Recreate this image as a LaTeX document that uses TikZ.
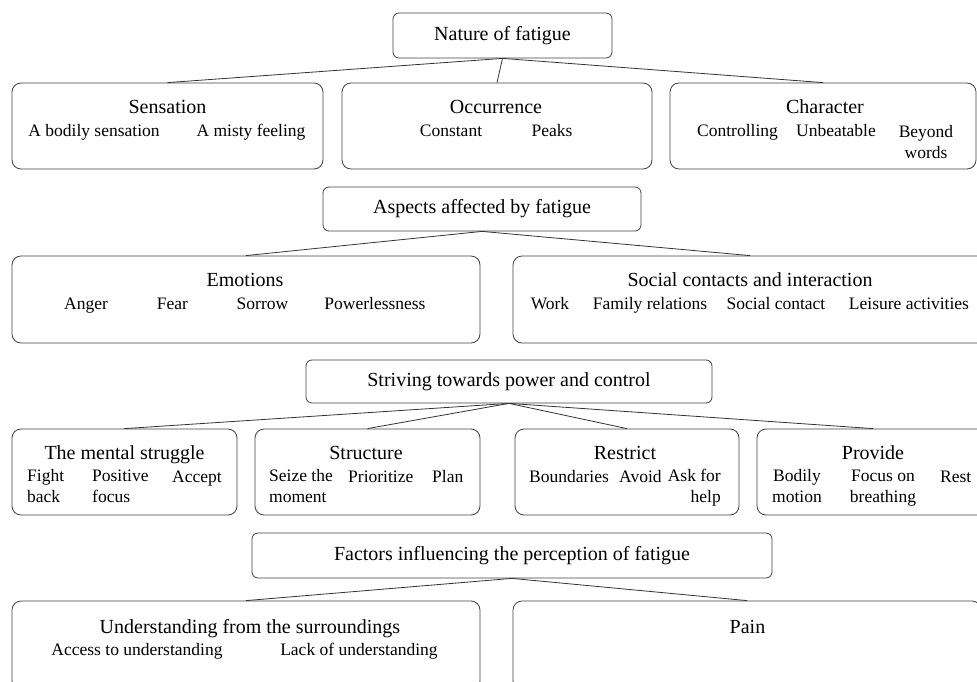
\documentclass[tikz,border=0pt]{standalone}
\usepackage{fontspec}
\setmainfont{Liberation Serif}
\usepackage{tikz}

\tikzset{
  head/.style={draw=black!75, line width=0.8pt, rounded corners=6pt, inner sep=0pt,
    font=\fontsize{20}{24}\selectfont},
  grp/.style={draw=black!75, line width=0.8pt, rounded corners=9pt, inner sep=0pt},
  ttl/.style={anchor=base, inner sep=0pt, font=\fontsize{20}{24}\selectfont},
  itm/.style={anchor=base, inner sep=0pt, font=\fontsize{17.5}{20.5}\selectfont},
  conn/.style={draw=black!80, line width=0.8pt}
}

\begin{document}
\begin{tikzpicture}[x=1pt,y=1pt,yscale=-1,xscale=1]
%set diagram to the page: 977 wide, 682 high
\path[use as bounding box, clip] (0,0) rectangle (977,682);

%Shape: Nature of fatigue
\node[head, minimum width=219, minimum height=45] (nature) at (502.5,35.5) {Nature of fatigue};
%Shape: Sensation
\node[grp, minimum width=311, minimum height=86] (sens) at (167.5,126) {};
\node[ttl] (sensT) at (167.5,114) {Sensation};
\node[itm] (sens1) at (94,137) {A bodily sensation};
\node[itm] (sens2) at (251,137) {A misty feeling};
%Shape: Occurrence
\node[grp, minimum width=310, minimum height=86] (occ) at (497,126) {};
\node[ttl] (occT) at (496,114) {Occurrence};
\node[itm] (occ1) at (451,137) {Constant};
\node[itm] (occ2) at (552,137) {Peaks};
%Shape: Character
\node[grp, minimum width=306, minimum height=86] (char) at (823,126) {};
\node[ttl] (charT) at (825,114) {Character};
\node[itm] (char1) at (737.5,137) {Controlling};
\node[itm] (char2) at (836,137) {Unbeatable};
% two lines: base is the last line
\node[itm, align=center] (char3) at (926,158) {Beyond\\words};

%Shape: Aspects affected by fatigue
\node[head, minimum width=318, minimum height=44] (aspects) at (482,209) {Aspects affected by fatigue};
%Shape: Emotions
\node[grp, minimum width=468, minimum height=87] (emo) at (246,299.5) {};
\node[ttl] (emoT) at (245,286) {Emotions};
\node[itm] (emo1) at (86,309) {Anger};
\node[itm] (emo2) at (172.5,309) {Fear};
\node[itm] (emo3) at (262.5,309) {Sorrow};
\node[itm] (emo4) at (375,309) {Powerlessness};
%Shape: Social contacts
\node[grp, minimum width=474, minimum height=87] (soc) at (750,299.5) {};
\node[ttl] (socT) at (750,286) {Social contacts and interaction};
\node[itm] (soc1) at (550,309) {Work};
\node[itm] (soc2) at (650,309) {Family relations};
\node[itm] (soc3) at (776,309) {Social contact};
\node[itm] (soc4) at (909,309) {Leisure activities};

%Shape: Striving towards power and control
\node[head, minimum width=406, minimum height=43] (striving) at (509,381.5) {Striving towards power and control};
%Shape: The mental struggle
\node[grp, minimum width=225, minimum height=86] (ment) at (124.5,472) {};
\node[ttl] (mentT) at (124.5,459) {The mental struggle};
\node[itm, anchor=base west, align=left] (ment1) at (27,502) {Fight\\back};
\node[itm, anchor=base west, align=left] (ment2) at (92,502) {Positive\\focus};
\node[itm, anchor=base west] (ment3) at (172,482) {Accept};
%Shape: Structure
\node[grp, minimum width=225, minimum height=86] (struc) at (367.5,472) {};
\node[ttl] (strucT) at (366,459) {Structure};
\node[itm, anchor=base west, align=left] (struc1) at (269,502) {Seize the\\moment};
\node[itm, anchor=base west] (struc2) at (348,482) {Prioritize};
\node[itm, anchor=base west] (struc3) at (432,482) {Plan};
%Shape: Restrict
\node[grp, minimum width=224, minimum height=86] (restr) at (627,472) {};
\node[ttl] (restrT) at (625,459) {Restrict};
\node[itm, anchor=base west] (restr1) at (529,482) {Boundaries};
\node[itm, anchor=base west] (restr2) at (619,482) {Avoid};
\node[itm, anchor=base east, align=right] (restr3) at (721,502) {Ask for\\help};
%Shape: Provide
\node[grp, minimum width=232, minimum height=86] (prov) at (873,472) {};
\node[ttl] (provT) at (873,459) {Provide};
\node[itm, align=center] (prov1) at (797,502) {Bodily\\motion};
\node[itm, align=center] (prov2) at (883,502) {Focus on\\breathing};
\node[itm, anchor=base west] (prov3) at (940,482) {Rest};

%Shape: Factors influencing the perception of fatigue
\node[head, minimum width=520, minimum height=45] (factors) at (512,555.5) {Factors influencing the perception of fatigue};
%Shape: Understanding from the surroundings
\node[grp, minimum width=468, minimum height=89] (under) at (246,645.5) {};
\node[ttl] (underT) at (250,633) {Understanding from the surroundings};
\node[itm] (under1) at (137,655) {Access to understanding};
\node[itm] (under2) at (359,655) {Lack of understanding};
%Shape: Pain
\node[grp, minimum width=468, minimum height=89] (pain) at (747,645.5) {};
\node[ttl] (painT) at (747.5,633) {Pain};

%Straight Lines
\foreach \a/\b in {nature/sens, nature/occ, nature/char,
                   aspects/emo, aspects/soc,
                   striving/ment, striving/struc, striving/restr, striving/prov,
                   factors/under, factors/pain}
  \draw[conn] (\a.south) -- (\b.north);
\end{tikzpicture}
\end{document}
